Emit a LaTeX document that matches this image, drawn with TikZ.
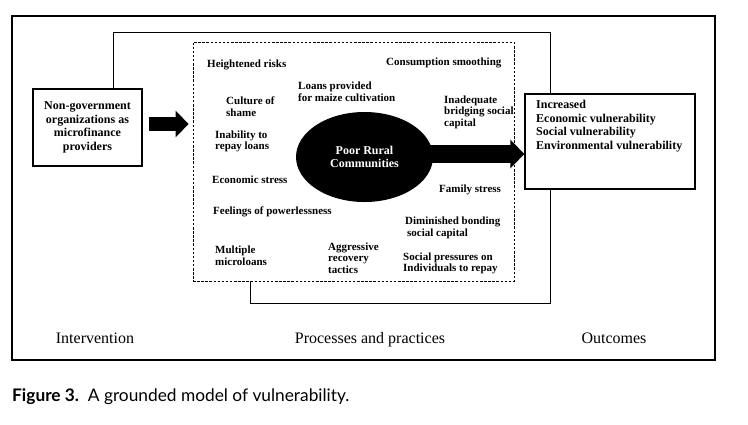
\documentclass[tikz,border=0pt]{standalone}
\usepackage{fontspec}
\setmainfont{Liberation Serif}
\newfontfamily\capfont{Lato}
\usetikzlibrary{shapes.geometric,arrows.meta,calc}
\begin{document}
\begin{tikzpicture}[x=1pt,y=-1pt,
  lbl/.style={font=\fontsize{11}{11.5}\selectfont\bfseries, align=left, anchor=west, inner sep=0pt},
  boxtxt/.style={font=\fontsize{12}{13.5}\selectfont\bfseries, inner sep=0pt},
  solidbox/.style={draw, line width=1.3pt, inner sep=0pt},
  conn/.style={line width=0.9pt},
  section/.style={font=\fontsize{16}{18}\selectfont, inner sep=0pt, anchor=base},
  blockarrow/.style={line width=#1}
]
\useasboundingbox (0,0) rectangle (748,424);
% outer frame
\draw[line width=1.2pt] (12,16) rectangle (715,360);

% main boxes
\node[solidbox, minimum width=109pt, minimum height=77pt, align=center,
      font=\fontsize{12}{13.5}\selectfont\bfseries] (ngo) at (87.5,127.5)
      {Non-government\\organizations as\\microfinance\\providers};
\node[draw, dashed, dash pattern=on 2.5pt off 1.6pt, line width=0.8pt,
      minimum width=321pt, minimum height=239pt, inner sep=0pt] (proc) at (353.5,161.5) {};
\node[solidbox, minimum width=170pt, minimum height=95pt] (out) at (610,141.5) {};
\node[boxtxt, align=left, anchor=west] (outtxt) at (536,126)
      {Increased\\Economic vulnerability\\Social vulnerability\\Environmental vulnerability};

% ellipse
\node[ellipse, fill=black, minimum width=137pt, minimum height=90pt, inner sep=0pt,
      text=white, align=center, font=\fontsize{12}{13.5}\selectfont\bfseries] (ell) at (364.5,157)
      {Poor Rural\\Communities};

% labels in the process box
\node[lbl] (l1) at (207,65) {Heightened risks};
\node[lbl] (l2) at (226,106.5) {Culture of\\shame};
\node[lbl] (l3) at (298,91.5) {Loans provided\\for maize cultivation};
\node[lbl] (l4) at (215,141.5) {Inability to\\repay loans};
\node[lbl] (l5) at (212,180) {Economic stress};
\node[lbl] (l6) at (213,212) {Feelings of powerlessness};
\node[lbl] (l7) at (215,255.5) {Multiple\\microloans};
\node[lbl] (l8) at (328,258) {Aggressive\\recovery\\tactics};
\node[lbl] (l9) at (386,63) {Consumption smoothing};
\node[lbl] (l10) at (444,112) {Inadequate\\bridging social\\capital};
\node[lbl] (l11) at (439,190) {Family stress};
\node[lbl] (l12) at (405,228) {Diminished bonding\\\hspace*{2pt}social capital};
\node[lbl] (l13) at (403,263.5) {Social pressures on\\Individuals to repay};

% connectors
\coordinate (c1) at (113,32);
\coordinate (c2) at (550,32);
\coordinate (c3) at (550,303);
\coordinate (c4) at (250,303);
\draw[conn] (ngo.north -| c1) -- (c1) -- (c2) -- (out.north -| c2);
\draw[conn] (out.south -| c3) -- (c3) -- (c4) -- (proc.south -| c4);

% block arrows
\draw[blockarrow=14pt, -{Triangle[length=13pt,width=26pt]}]
  ($(ngo.east |- 0,124)+(6,0)$) -- ($(proc.west |- 0,124)+(-4,0)$);
\draw[blockarrow=18pt, -{Triangle[length=14pt,width=28pt]}]
  ($(ell.east |- 0,154)+(-12,0)$) -- (out.west |- 0,154);

% section labels
\node[section] (s1) at (95,343) {Intervention};
\node[section] (s2) at (370,343) {Processes and practices};
\node[section] (s3) at (614,343) {Outcomes};

% caption
\node[anchor=base west, inner sep=0pt, font=\capfont\fontsize{17.3}{19}\selectfont] (cap) at (12,401)
  {\textbf{Figure 3.}\ \ A grounded model of vulnerability.};
\end{tikzpicture}
\end{document}
